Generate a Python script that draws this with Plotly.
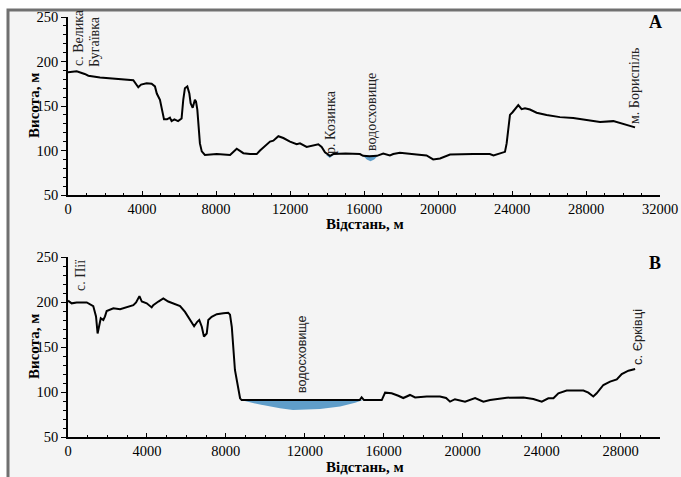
import plotly.graph_objects as go

W, H = 681, 477

# ---------------- Profile A ----------------
a_dist = [0, 470, 900, 1100, 1730, 2500, 3530, 3800, 3950, 4250, 4520, 4700, 4800, 4970,
          5120, 5190, 5350, 5510, 5600, 5750, 5950, 6140, 6230, 6320, 6450, 6560, 6630,
          6740, 6860, 6920, 6990, 7060, 7130, 7230, 7400, 8040, 8760, 9120, 9480, 9840,
          10200, 10380, 10610, 10920, 11100, 11370, 11640, 12000, 12360, 12540, 12900,
          13350, 13530, 13710, 13890, 14160, 14340, 15000, 15780, 15950, 16300, 16700,
          17040, 17400, 17580, 17940, 18300, 18840, 19380, 19740, 20110, 20650, 21900,
          22800, 23000, 23350, 23620, 23710, 23890, 24030, 24210, 24340, 24520, 24700,
          24970, 25330, 25870, 26590, 27310, 28040, 28760, 29480, 30020, 30650]
a_elev = [188, 189, 186, 184, 182, 181, 179, 171, 174, 175.5, 175, 172, 164, 157,
          142, 135, 135, 137, 133, 135, 133, 136, 157, 170, 172, 164, 153,
          148, 157, 155, 146, 127, 108, 99, 95, 96, 95, 102, 97, 96,
          96, 100, 104, 110, 111, 116, 114, 110, 107, 108, 104,
          106, 107, 104, 98, 94, 96, 96.5, 96, 94, 93.5, 94,
          96.5, 94.5, 96, 97.5, 96.5, 95.5, 94.5, 90, 91, 95.5, 96,
          96, 94.5, 97, 98.5, 108, 140, 143, 147, 151, 146.5, 147.5,
          146, 142.5, 140, 137.5, 136.5, 134, 132, 133, 130, 126]

# water bodies on A (distance, surface, bed)
a_w1_dist = [13950, 14150, 14350]
a_w1_surf = [95, 95, 95]
a_w1_bed = [95, 91.5, 95]
a_w2_dist = [15950, 16150, 16350, 16550, 16750]
a_w2_surf = [94, 94, 94, 94, 94]
a_w2_bed = [94, 90, 88, 90, 94]

# ---------------- Profile B ----------------
b_dist = [0, 186, 440, 950, 1280, 1420, 1500, 1590, 1660, 1790, 1875, 1960, 2300, 2640,
          2970, 3310, 3450, 3620, 3740, 3990, 4240, 4320, 4580, 4830, 5080, 5340, 5680,
          5930, 6180, 6390, 6550, 6650, 6780, 6890, 7030, 7110, 7280, 7540, 7870, 8120,
          8210, 8300, 8460, 8580, 8720, 8800, 14780, 14880, 15000, 15140, 15900, 16070,
          16400, 16740, 16990, 17330, 17590, 18180, 18850, 19160, 19360, 19610, 20120,
          20630, 21050, 21390, 22230, 23080, 23580, 24010, 24340, 24600, 24850, 25270,
          26120, 26370, 26620, 26790, 27130, 27470, 27810, 28060, 28400, 28740]
b_elev = [201.5, 198.5, 199.5, 199.5, 195.5, 184, 165, 176, 182, 180, 184, 190, 193, 192,
          194, 196.5, 199.5, 206.5, 200.5, 198.5, 194, 196.5, 200.5, 204, 200.5, 198, 195.5,
          189, 181, 173, 178, 180, 172.5, 161.5, 165, 180, 183.5, 186.5, 187.5, 188,
          186, 172.5, 124.5, 109.5, 93, 91, 91, 94, 91, 91, 91, 99.3,
          98.6, 95.8, 93.3, 96.7, 94, 95, 95, 93.3, 89.3, 92, 89.3,
          93.3, 89.3, 91, 93.7, 94, 92.3, 89.3, 93, 93, 98.6, 101.6,
          101.6, 99.3, 95, 98.6, 107.8, 111.5, 114, 120, 123.7, 125.5]

b_w_dist = [8750, 9730, 10740, 11400, 12770, 13790, 14550, 14950]
b_w_surf = [91, 91, 91, 91, 91, 91, 91, 91]
b_w_bed = [91, 86, 82, 80, 81, 84, 88, 91]

x_ticks_a = [0, 4000, 8000, 12000, 16000, 20000, 24000, 28000, 32000]
x_ticks_b = [0, 4000, 8000, 12000, 16000, 20000, 24000, 28000]
y_ticks = [50, 100, 150, 200, 250]

SERIF = "Liberation Serif"
SANS = "Liberation Sans"
WATER = "#5f9dc9"


def water_poly(d, s, b):
    return d + d[::-1], s + b[::-1]


fig = go.Figure()

for d, s, b, xa, ya in [(a_w1_dist, a_w1_surf, a_w1_bed, "x", "y"),
                        (a_w2_dist, a_w2_surf, a_w2_bed, "x", "y"),
                        (b_w_dist, b_w_surf, b_w_bed, "x2", "y2")]:
    px_, py_ = water_poly(d, s, b)
    fig.add_trace(go.Scatter(x=px_, y=py_, fill="toself", fillcolor=WATER,
                             line=dict(width=0), mode="lines", xaxis=xa, yaxis=ya,
                             hoverinfo="skip", showlegend=False))

fig.add_trace(go.Scatter(x=a_dist, y=a_elev, mode="lines",
                         line=dict(color="black", width=2), xaxis="x", yaxis="y",
                         showlegend=False))
fig.add_trace(go.Scatter(x=b_dist, y=b_elev, mode="lines",
                         line=dict(color="black", width=2), xaxis="x2", yaxis="y2",
                         showlegend=False))


def px2x(p):
    return p / W


def py2y(p):
    return 1 - p / H


base_axis = dict(showline=True, linecolor="black", linewidth=1.8,
                 tickwidth=1.3, tickcolor="black", showgrid=False,
                 zeroline=False, automargin=False,
                 tickfont=dict(family=SERIF, size=14.5, color="black"))
x_axis_style = dict(ticks="inside", ticklen=4,
                    minor=dict(dtick=1000, ticks="inside", ticklen=2.5, tickcolor="black"),
                    **base_axis)
y_axis_style = dict(ticks="outside", ticklen=5,
                    minor=dict(dtick=10, ticks="outside", ticklen=3, tickcolor="black"),
                    **base_axis)

fig.update_layout(
    width=W, height=H,
    margin=dict(l=0, r=0, t=0, b=0),
    paper_bgcolor="white",
    plot_bgcolor="rgba(0,0,0,0)",
    showlegend=False,
    xaxis=dict(domain=[px2x(68), px2x(660)], range=[0, 32000], anchor="y",
               tickvals=x_ticks_a, ticktext=[str(v) for v in x_ticks_a], **x_axis_style),
    yaxis=dict(domain=[py2y(195), py2y(17)], range=[50, 250], anchor="x",
               tickvals=y_ticks, ticktext=[str(v) for v in y_ticks], **y_axis_style),
    xaxis2=dict(domain=[px2x(68), px2x(660)], range=[0, 30000], anchor="y2",
                tickvals=x_ticks_b, ticktext=[str(v) for v in x_ticks_b], **x_axis_style),
    yaxis2=dict(domain=[py2y(437), py2y(257)], range=[50, 250], anchor="x2",
                tickvals=y_ticks, ticktext=[str(v) for v in y_ticks], **y_axis_style),
)

# frame / background
fig.add_shape(type="rect", xref="paper", yref="paper",
              x0=px2x(8), x1=1.02, y0=-0.02, y1=py2y(10),
              fillcolor="#f4f4f4", line=dict(color="#707070", width=3), layer="below")


def ann(text, x, y, size=15, family=SERIF, bold=False, angle=0, color="black"):
    t = f"<b>{text}</b>" if bold else text
    fig.add_annotation(text=t, x=px2x(x), y=py2y(y), xref="paper", yref="paper",
                       showarrow=False, xanchor="center", yanchor="middle",
                       textangle=angle, font=dict(family=family, size=size, color=color))


# axis titles
ann("Висота, м", 34, 106, size=15, bold=True, angle=-90)
ann("Висота, м", 34, 347, size=15, bold=True, angle=-90)
ann("Відстань, м", 365, 224, size=15, bold=True)
ann("Відстань, м", 365, 467, size=15, bold=True)

# panel letters
ann("A", 655, 22, size=18, bold=True)
ann("B", 655, 263, size=18, bold=True)

# place labels (rotated)
ann("с. Велика", 78, 38, size=14, angle=-90, color="#222")
ann("Бугаївка", 95, 42, size=14, angle=-90, color="#222")
ann("р. Козинка", 330, 122, size=14, angle=-90, color="#222")
ann("водосховище", 372, 112, size=14, angle=-90, color="#222")
ann("м. Бориспіль", 634, 86, size=14, angle=-90, color="#222")
ann("с. Пії", 80, 276, size=14, angle=-90, color="#222")
ann("водосховище", 302, 354, size=12.5, family=SANS, angle=-90, color="#222")
ann("с. Єрківці", 637, 337, size=13, family=SANS, angle=-90, color="#222")

fig.write_html("out.html", config={"displayModeBar": False},
               post_script="document.body.style.margin='0px';"
                           "document.body.style.overflow='hidden';")
